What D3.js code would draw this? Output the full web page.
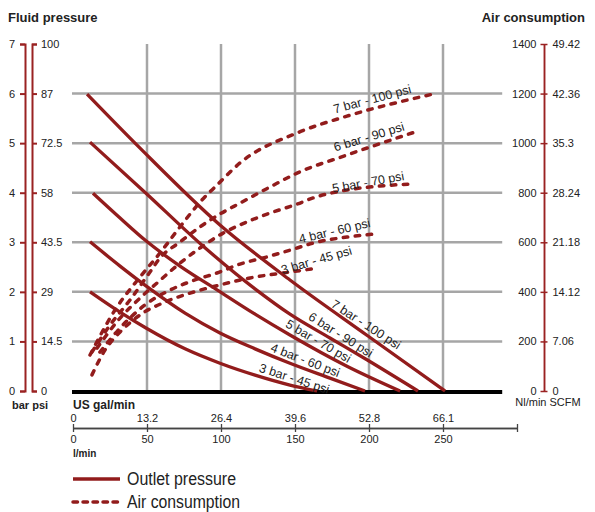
<!DOCTYPE html>
<html>
<head>
<meta charset="utf-8">
<script src="https://cdn.jsdelivr.net/npm/d3@7"></script>
<style>
  body { margin: 0; background: #fff; }
  svg text { font-family: "Liberation Sans", Arial, sans-serif; fill: #222; }
</style>
</head>
<body>
<script>
// flow, l/min on the bottom axis, with the US gal/min equivalents above
const lpmTicks = [0, 50, 100, 150, 200, 250, 300];
const galLabels = ["0", "13.2", "26.4", "39.6", "52.8", "66.1", ""];
const lpmLabels = ["0", "50", "100", "150", "200", "250", ""];

// fluid pressure, bar on the left with psi next to it
const barTicks = [0, 1, 2, 3, 4, 5, 6, 7];
const psiLabels = ["0", "14.5", "29", "43.5", "58", "72.5", "87", "100"];

// air consumption, Nl/min with SCFM
const airTicks = [0, 200, 400, 600, 800, 1000, 1200, 1400];
const scfmLabels = ["0", "7.06", "14.12", "21.18", "28.24", "35.3", "42.36", "49.42"];

const seriesNames = ["7 bar - 100 psi", "6 bar - 90 psi", "5 bar - 70 psi", "4 bar - 60 psi", "3 bar - 45 psi"];

// outlet pressure curves, [l/min, bar]
const outlet7 = [[9.5, 5.99], [45.3, 4.90], [99.3, 3.35], [146.6, 2.24], [199.3, 1.11], [251.4, 0]];
const outlet6 = [[11.5, 5.02], [49.3, 3.99], [87.2, 2.94], [124.3, 2.03], [146.6, 1.55], [173.6, 1.07], [198.6, 0.63], [233.1, 0]];
const outlet5 = [[13.5, 3.99], [31.8, 3.49], [49.3, 3.03], [72.3, 2.52], [97.3, 2.04], [123, 1.55], [146.6, 1.13], [185.1, 0.50], [221, 0]];
const outlet4 = [[11.5, 3.01], [31.8, 2.52], [49.3, 2.12], [75.7, 1.57], [99.3, 1.17], [123, 0.85], [146.6, 0.56], [173.6, 0.26], [197.3, 0]];
const outlet3 = [[11.5, 2.0], [31.8, 1.59], [49.3, 1.27], [75.7, 0.85], [99.3, 0.56], [123, 0.32], [146.6, 0.12], [164.9, 0]];

// air consumption curves, [l/min, Nl/min]
const air7 = [[11.5, 145], [28.4, 327], [45.3, 460], [58.8, 557], [72.3, 662], [85.8, 762], [97.3, 831], [112.8, 920], [151.4, 1041], [185.1, 1109], [243.2, 1198]];
const air6 = [[12.8, 157], [25, 266], [38.5, 367], [52, 480], [58.8, 537], [72.3, 601], [85.8, 662], [99.3, 714], [112.8, 758], [133.1, 823], [151.4, 879], [185.1, 952], [231.1, 1045]];
const air5 = [[16.2, 173], [31.8, 294], [45.3, 375], [56.8, 436], [72.3, 516], [85.8, 577], [101.4, 637], [112.8, 670], [133.1, 718], [151.4, 754], [162.2, 779], [185.1, 811], [207.4, 827], [229.1, 835]];
const air4 = [[18.2, 157], [31.8, 254], [48.6, 347], [65.5, 407], [82.4, 448], [97.3, 476], [112.8, 512], [131.1, 541], [151.4, 577], [162.2, 597], [185.1, 621], [202.7, 633]];
const air3 = [[12.8, 65], [21.6, 165], [31.8, 238], [45.3, 307], [62.2, 359], [79.1, 395], [99.3, 428], [119.6, 456], [146.6, 480], [165.5, 496]];

const outletSeries = [outlet7, outlet6, outlet5, outlet4, outlet3];
const airSeries = [air7, air6, air5, air4, air3];

// where the curve names sit: flow along the curve, text angle, lift off the line
const outletLabelAt = [195, 178, 163, 155, 148];
const outletLabelAngle = [33, 32, 30, 21, 18];
const outletLabelLift = [8, 8, 8, 8, 7];
const airLabelAt = [204, 202, 200, 178, 166];
const airLabelAngle = [-15, -17, -10, -13, -16];
const airLabelLift = [10, 10, 5, 8, 8];

const red = "#921c1c";
const axisRed = "#9a2222";

const svg = d3.select("body").append("svg")
  .attr("width", 595)
  .attr("height", 512);

const x = d3.scaleLinear().domain([0, 300]).range([73, 517]);
const yBar = d3.scaleLinear().domain([0, 7]).range([391, 44]);
const yAir = d3.scaleLinear().domain([0, 1400]).range([391, 44]);

// grid
const grid = svg.append("g").attr("stroke", "#a6a6a6").attr("stroke-width", 2.5);
grid.selectAll(".h").data(barTicks.filter(d => d > 0 && d < 7)).enter()
  .append("line")
    .attr("x1", x(0) - 1).attr("x2", x(290))
    .attr("y1", d => yBar(d)).attr("y2", d => yBar(d));
grid.selectAll(".v").data(lpmTicks.filter(d => d > 0 && d < 300)).enter()
  .append("line")
    .attr("x1", d => x(d)).attr("x2", d => x(d))
    .attr("y1", yBar(7)).attr("y2", yBar(0));

svg.append("line")
  .attr("x1", x(0) - 1).attr("x2", x(290))
  .attr("y1", yBar(0) + 1).attr("y2", yBar(0) + 1)
  .attr("stroke", "#000").attr("stroke-width", 4);

// curves
const outletLine = d3.line().x(d => x(d[0])).y(d => yBar(d[1])).curve(d3.curveMonotoneX);
const airLine = d3.line().x(d => x(d[0])).y(d => yAir(d[1])).curve(d3.curveMonotoneX);

svg.selectAll(".air").data(airSeries).enter()
  .append("path")
    .attr("d", airLine)
    .attr("fill", "none")
    .attr("stroke", red)
    .attr("stroke-width", 3.5)
    .attr("stroke-linecap", "round")
    .attr("stroke-dasharray", "4.5,7.5");

svg.selectAll(".outlet").data(outletSeries).enter()
  .append("path")
    .attr("d", outletLine)
    .attr("fill", "none")
    .attr("stroke", red)
    .attr("stroke-width", 3.3);

// curve names
function valueAt(pts, v) {
  if (v <= pts[0][0]) return pts[0][1];
  for (let i = 1; i < pts.length; i++) {
    if (v <= pts[i][0]) {
      const t = (v - pts[i - 1][0]) / (pts[i][0] - pts[i - 1][0]);
      return pts[i - 1][1] + t * (pts[i][1] - pts[i - 1][1]);
    }
  }
  return pts[pts.length - 1][1];
}

function addLabels(series, yScale, at, angle, lift) {
  series.forEach((pts, i) => {
    const a = angle[i] * Math.PI / 180;
    const px = x(at[i]) + Math.sin(a) * lift[i];
    const py = yScale(valueAt(pts, at[i])) - Math.cos(a) * lift[i];
    svg.append("text")
      .attr("transform", `translate(${px},${py}) rotate(${angle[i]})`)
      .attr("text-anchor", "middle")
      .attr("dominant-baseline", "central")
      .style("font-size", "12.5px")
      .text(seriesNames[i]);
  });
}
addLabels(outletSeries, yBar, outletLabelAt, outletLabelAngle, outletLabelLift);
addLabels(airSeries, yAir, airLabelAt, airLabelAngle, airLabelLift);

// left axes: bar and psi
const barAxis = svg.append("g")
  .attr("transform", "translate(25,0)")
  .call(d3.axisLeft(yBar).tickValues(barTicks).tickSize(5).tickSizeOuter(5).tickPadding(5)
    .tickFormat(d3.format("d")));
const psiAxis = svg.append("g")
  .attr("transform", "translate(32,0)")
  .call(d3.axisRight(yBar).tickValues(barTicks).tickSize(5).tickSizeOuter(5).tickPadding(4)
    .tickFormat((d, i) => psiLabels[i]));
[barAxis, psiAxis].forEach(g => {
  g.select(".domain").attr("stroke", axisRed).attr("stroke-width", 2);
  g.selectAll(".tick line").attr("stroke", axisRed).attr("stroke-width", 2);
  g.selectAll("text").style("font-size", "11px").attr("fill", "#222");
});

// right axes: Nl/min and SCFM
const nlAxis = svg.append("g")
  .attr("transform", "translate(544,0)")
  .call(d3.axisLeft(yAir).tickValues(airTicks).tickSize(3.5).tickSizeOuter(0).tickPadding(4)
    .tickFormat(d3.format("d")));
const scfmAxis = svg.append("g")
  .attr("transform", "translate(544,0)")
  .call(d3.axisRight(yAir).tickValues(airTicks).tickSize(3.5).tickSizeOuter(0).tickPadding(5)
    .tickFormat((d, i) => scfmLabels[i]));
[nlAxis, scfmAxis].forEach(g => {
  g.select(".domain").attr("stroke", axisRed).attr("stroke-width", 1.5);
  g.selectAll(".tick line").attr("stroke", axisRed).attr("stroke-width", 1.5);
  g.selectAll("text").style("font-size", "11px").attr("fill", "#222");
});

// bottom axes: gal/min above, l/min below
const galAxis = svg.append("g")
  .attr("transform", "translate(0,428)")
  .call(d3.axisTop(x).tickValues(lpmTicks).tickSize(4).tickSizeOuter(0).tickPadding(2)
    .tickFormat((d, i) => galLabels[i]));
const lpmAxis = svg.append("g")
  .attr("transform", "translate(0,428)")
  .call(d3.axisBottom(x).tickValues(lpmTicks).tickSize(4).tickSizeOuter(0).tickPadding(3)
    .tickFormat((d, i) => lpmLabels[i]));
[galAxis, lpmAxis].forEach(g => {
  g.select(".domain").attr("stroke", "#444").attr("stroke-width", 1.3);
  g.selectAll(".tick line").attr("stroke", "#444").attr("stroke-width", 1.3);
  g.selectAll("text").style("font-size", "11px").attr("fill", "#222");
});

// titles and unit names
svg.append("text").attr("x", 8).attr("y", 22)
  .style("font-size", "13px").style("font-weight", "bold").text("Fluid pressure");
svg.append("text").attr("x", 585).attr("y", 22).attr("text-anchor", "end")
  .style("font-size", "13px").style("font-weight", "bold").text("Air consumption");
svg.append("text").attr("x", 12).attr("y", 409)
  .style("font-size", "11px").style("font-weight", "bold").text("bar psi");
svg.append("text").attr("x", 73).attr("y", 409)
  .style("font-size", "12px").style("font-weight", "bold").text("US gal/min");
svg.append("text").attr("x", 73).attr("y", 457)
  .style("font-size", "10px").style("font-weight", "bold").text("l/min");
svg.append("text").attr("x", 548).attr("y", 406).attr("text-anchor", "middle")
  .style("font-size", "11px").text("Nl/min SCFM");

// legend
const legendItems = ["Outlet pressure", "Air consumption"];
const legendWidths = [109, 113];
const legend = svg.selectAll(".legend").data(legendItems).enter()
  .append("g")
    .attr("transform", (d, i) => `translate(73,${479 + i * 23})`);
legend.append("line")
  .attr("x1", 0).attr("x2", 47)
  .attr("stroke", red)
  .attr("stroke-width", 3.5)
  .attr("stroke-linecap", (d, i) => i ? "round" : "butt")
  .attr("stroke-dasharray", (d, i) => i ? "4.5,5.5" : null);
legend.append("text")
  .attr("x", 54).attr("y", 6)
  .attr("textLength", (d, i) => legendWidths[i])
  .attr("lengthAdjust", "spacingAndGlyphs")
  .style("font-size", "18px")
  .text(d => d);
</script>
</body>
</html>
